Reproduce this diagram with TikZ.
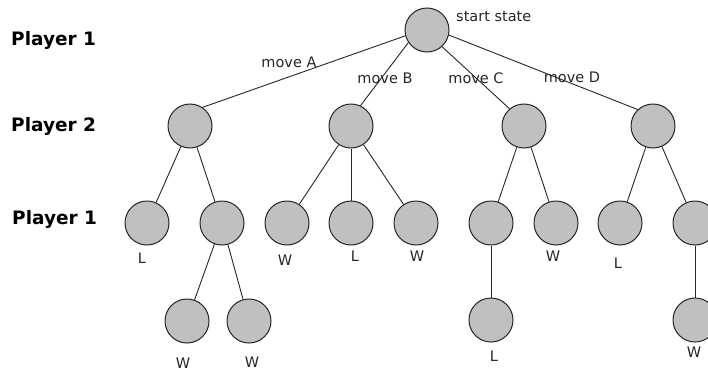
\documentclass[tikz,border=0pt]{standalone}
\usepackage{fontspec}
\setmainfont{DejaVu Sans}
\begin{document}
\begin{tikzpicture}[x=1pt,y=-1pt,
  st/.style={circle,draw=black!85,line width=1pt,fill=nodegray,minimum size=44pt,inner sep=0pt},
  lbl/.style={font=\fontsize{14.5}{16}\selectfont,text=black!85,inner sep=0pt},
  plbl/.style={font=\fontsize{18.5}{20}\selectfont\bfseries,anchor=west,inner sep=0pt},
  edge/.style={draw=black!85,line width=0.9pt}]
\definecolor{nodegray}{RGB}{192,192,192}
\useasboundingbox (0,0) rectangle (708,372);
\clip (0,0) rectangle (708,372);
% player labels
\node[plbl] (p1) at (11,40) {Player 1};
\node[plbl] (p2) at (11,126) {Player 2};
\node[plbl] (p3) at (12,219) {Player 1};
% nodes
\node[st] (r) at (427,30) {};
\node[st] (a) at (190,126) {};
\node[st] (b) at (351,126) {};
\node[st] (c) at (524,126) {};
\node[st] (d) at (653,126) {};
\node[st] (a1) at (147,223) {};
\node[st] (a2) at (222,223) {};
\node[st] (b1) at (287,223) {};
\node[st] (b2) at (351,223) {};
\node[st] (b3) at (416,223) {};
\node[st] (c1) at (491,223) {};
\node[st] (c2) at (556,223) {};
\node[st] (d1) at (620,223) {};
\node[st] (d2) at (695,223) {};
\node[st] (a21) at (187,321) {};
\node[st] (a22) at (249,321) {};
\node[st] (c11) at (491,320) {};
\node[st] (d21) at (695,320) {};
% edges
\draw[edge] (r.195) -- (a.56);
\draw[edge] (r.214) -- (b.65);
\draw[edge] (r.-48) -- (c.130);
\draw[edge] (r.-13) -- (d.133);
\draw[edge] (a) -- (a1);
\draw[edge] (a) -- (a2);
\draw[edge] (b) -- (b1);
\draw[edge] (b) -- (b2);
\draw[edge] (b) -- (b3);
\draw[edge] (c) -- (c1);
\draw[edge] (c) -- (c2);
\draw[edge] (d) -- (d1);
\draw[edge] (d) -- (d2);
\draw[edge] (a2) -- (a21);
\draw[edge] (a2) -- (a22);
\draw[edge] (c1) -- (c11);
\draw[edge] (d2) -- (d21);
% labels
\node[lbl,anchor=west] (ss) at (456,17) {start state};
\node[lbl] (ma) at (289,62) {move A};
\node[lbl] (mb) at (385,78) {move B};
\node[lbl] (mc) at (476,78) {move C};
\node[lbl] (md) at (572,77) {move D};
\node[lbl] (la1) at (142,258) {L};
\node[lbl] (lb1) at (285,260) {W};
\node[lbl] (lb2) at (355,256) {L};
\node[lbl] (lb3) at (417,256) {W};
\node[lbl] (lc2) at (553,256) {W};
\node[lbl] (ld1) at (618,263) {L};
\node[lbl] (la21) at (183,363) {W};
\node[lbl] (la22) at (252,362) {W};
\node[lbl] (lc11) at (494,356) {L};
\node[lbl] (ld21) at (694,352) {W};
\end{tikzpicture}
\end{document}
